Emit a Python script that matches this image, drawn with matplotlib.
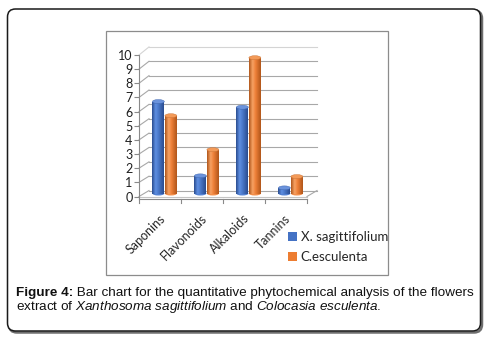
import matplotlib
matplotlib.use('Agg')
import matplotlib.pyplot as plt
import numpy as np
from matplotlib.patches import FancyBboxPatch, Rectangle, Ellipse, Patch
from matplotlib.colors import LinearSegmentedColormap

# ---------------- data ----------------
categories = ['Saponins', 'Flavonoids', 'Alkaloids', 'Tannins']
x_sagittifolium = [6.5, 1.25, 6.1, 0.4]
c_esculenta = [5.5, 3.1, 9.6, 1.2]
series_names = ['X. sagittifolium', 'C.esculenta']
y_ticks = list(range(0, 11))

# ---------------- style ----------------
plt.rcParams['mathtext.fontset'] = 'custom'
plt.rcParams['mathtext.rm'] = 'Liberation Sans'
plt.rcParams['mathtext.it'] = 'Liberation Sans:italic'
plt.rcParams['mathtext.bf'] = 'Liberation Sans:bold'

W, H = 489, 343
BLUE = '#4472c4'
ORANGE = '#ed7d31'
blue_cmap = LinearSegmentedColormap.from_list(
    'b', [(0, '#2a4c8f'), (0.3, '#5f8fe2'), (0.55, '#4a78c9'), (1, '#2a4c8f')])
orange_cmap = LinearSegmentedColormap.from_list(
    'o', [(0, '#b0561a'), (0.3, '#f7a264'), (0.55, '#ee8038'), (1, '#b0561a')])
BLUE_TOP = '#6b93dc'
ORANGE_TOP = '#f39a58'
LABEL_FS = 9

fig = plt.figure(figsize=(W / 100, H / 100), dpi=100)

# overlay in pixel coordinates
ov = fig.add_axes([0, 0, 1, 1])
ov.set_xlim(0, W)
ov.set_ylim(H, 0)
ov.axis('off')

# outer rounded frame with shadow
ov.add_patch(FancyBboxPatch((9, 10.5), 473, 322, boxstyle='round,pad=0,rounding_size=8',
                            ec='#6e6e6e', fc='none', lw=1.8))
ov.add_patch(FancyBboxPatch((7.5, 9), 473, 322, boxstyle='round,pad=0,rounding_size=8',
                            ec='#1a1a1a', fc='white', lw=1.1))
# inner chart frame
ov.add_patch(Rectangle((106, 31), 282, 244, ec='#8c8c8c', fc='white', lw=0.9))

# ---------------- main chart axes (front plane) ----------------
px_left, px_right, px_top, px_bottom = 139, 307, 55, 196.5
ax = fig.add_axes([px_left / W, 1 - px_bottom / H, (px_right - px_left) / W, (px_bottom - px_top) / H])
ax.set_facecolor('none')
for s in ax.spines.values():
    s.set_visible(False)

n = len(categories)
dx = 10 / 42.0  # depth offset in category units


def dy(level):
    return 0.42 + 0.015 * level


# gridlines: slanted side + back wall
for lv in y_ticks:
    col = '#d4d4d4' if lv == y_ticks[-1] else '#a8a8a8'
    ax.plot([0, dx], [lv, lv + dy(lv)], color=col, lw=0.8, clip_on=False, zorder=1)
    ax.plot([dx, n + dx], [lv + dy(lv), lv + dy(lv)], color=col, lw=0.8, clip_on=False, zorder=1)

# floor
ax.plot([0, n], [0, 0], color='#c4c4c4', lw=0.8, clip_on=False, zorder=1)
ax.plot([n, n + dx], [0, dy(0)], color='#a8a8a8', lw=0.8, clip_on=False, zorder=1)
# axes lines
ax.plot([0, 0], [-0.21, 10], color='#8a8a8a', lw=0.8, clip_on=False, zorder=1)
ax.plot([0, n], [-0.21, -0.21], color='#8a8a8a', lw=0.8, clip_on=False, zorder=1)
for i in range(n + 1):
    ax.plot([i, i], [-0.21, -0.46], color='#8a8a8a', lw=0.8, clip_on=False, zorder=1)

# bars (cylinders)
width = 0.285
shift = 0.11
off = 0.149
base = 0.21
xs = np.arange(n) + 0.5 + shift
cap_h = 0.28
grad = np.linspace(0, 1, 64).reshape(1, -1)
for vals, dxo, cmap, col, topc in [(x_sagittifolium, -off, blue_cmap, BLUE, BLUE_TOP),
                                   (c_esculenta, off, orange_cmap, ORANGE, ORANGE_TOP)]:
    bars = ax.bar(xs + dxo, vals, width=width, bottom=base, color=col, lw=0, zorder=3, clip_on=False)
    for b in bars:
        x0 = b.get_x()
        x1 = x0 + b.get_width()
        y0 = b.get_y()
        y1 = y0 + b.get_height()
        ax.add_patch(Ellipse(((x0 + x1) / 2, y0), width, cap_h, fc=cmap(0.45), ec='none',
                             zorder=2.9, clip_on=False))
        im = ax.imshow(grad, cmap=cmap, extent=[x0, x1, y0, y1], aspect='auto',
                       zorder=3.1, interpolation='bilinear')
        im.set_clip_path(b)
        ax.add_patch(Ellipse(((x0 + x1) / 2, y1), width, cap_h, fc=topc, ec=cmap(0.1),
                             lw=0.3, zorder=3.2, clip_on=False))

ax.set_xlim(0, n)
ax.set_ylim(0, 10)
ax.set_xticks([])
ax.set_yticks(y_ticks)
ax.set_yticklabels([str(v) for v in y_ticks], family='Lato', fontsize=LABEL_FS, color='#1f1f1f')
ax.tick_params(axis='y', length=3.6, width=0.8, color='#8a8a8a', pad=1)

# category labels
for i, cat in enumerate(categories):
    ax.text(i + 0.5 + 0.07, -1.4, cat, rotation=45, rotation_mode='anchor',
            ha='right', va='center', family='Lato', fontsize=LABEL_FS, color='#262626', clip_on=False)

# legend
handles = [Patch(facecolor=BLUE, edgecolor='none'), Patch(facecolor=ORANGE, edgecolor='none')]
fig.legend(handles, series_names, loc='upper left', bbox_to_anchor=(288 / W, 1 - 231 / H),
           frameon=False, prop={'family': 'Lato', 'size': 9.5}, handlelength=0.65,
           handleheight=0.65, handletextpad=0.3, labelspacing=0.62, borderpad=0,
           borderaxespad=0, labelcolor='#262626')

# ---------------- caption ----------------
renderer = fig.canvas.get_renderer()
CAP_FAM = 'Liberation Sans'
cap_bold = 'Figure 4:'
cap_rest1 = ' Bar chart for the quantitative phytochemical analysis of the flowers'
cap_line2 = (r'extract of $\mathit{Xanthosoma\ sagittifolium}$ and '
             r'$\mathit{Colocasia\ esculenta}$.')


def width_of(s, fs, weight='normal'):
    t = ov.text(0, 0, s, fontsize=fs, family=CAP_FAM, weight=weight)
    w = t.get_window_extent(renderer).width
    t.remove()
    return w


ref_fs = 10.0
w1 = width_of(cap_bold, ref_fs, 'bold') + width_of(cap_rest1.replace(' ', '|', 1), ref_fs)
fs = ref_fs * (474 - 16) / w1

tb = ov.text(16, 296, cap_bold, fontsize=fs, family=CAP_FAM, weight='bold',
             ha='left', va='baseline', color='#111111')
wb = tb.get_window_extent(renderer).width
ov.text(16 + wb, 296, cap_rest1, fontsize=fs, family=CAP_FAM,
        ha='left', va='baseline', color='#111111')
ov.text(16, 310, cap_line2, fontsize=fs, family=CAP_FAM,
        ha='left', va='baseline', color='#111111')

fig.savefig('out.png', dpi=100)
